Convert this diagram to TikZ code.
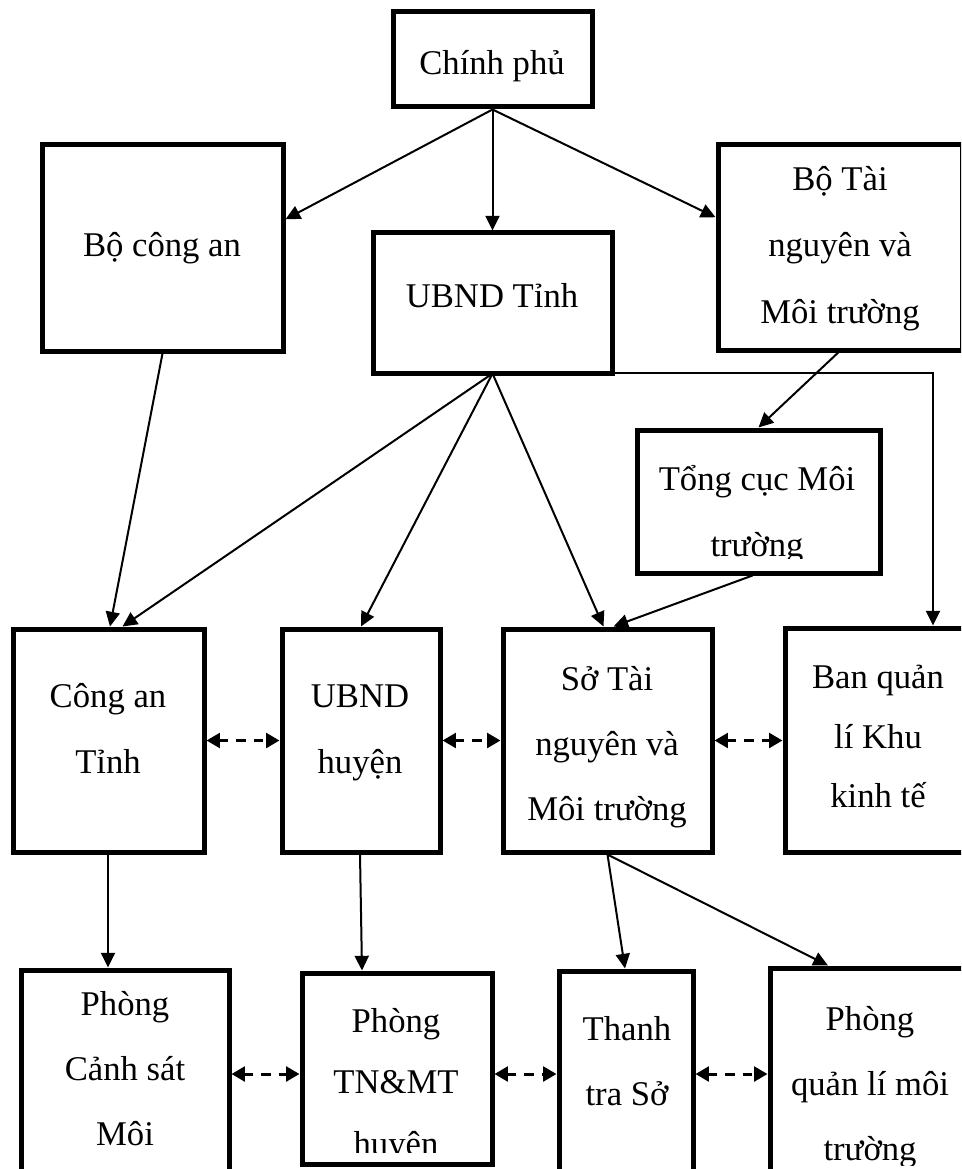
\documentclass[tikz,border=0pt]{standalone}
\usepackage{fontspec}
\setmainfont{Liberation Serif}
\usetikzlibrary{arrows.meta,calc,fit}
\tikzset{
  box/.style={draw, line width=3.75pt, inner sep=0pt, outer sep=1.875pt, rectangle},
  txt/.style={font=\fontsize{26}{30}\selectfont, inner sep=0pt, anchor=base},
  conn/.style={line width=1.5pt, -{Triangle[length=11pt,width=10.5pt]}},
  dconn/.style={line width=2.25pt, dash pattern=on 7pt off 6pt,
    {Triangle[length=10pt,width=11pt]}-{Triangle[length=10pt,width=11pt]}}
}
\begin{document}
\begin{tikzpicture}[x=0.75pt,y=-0.75pt]
\useasboundingbox (0,0) rectangle (961,1169);
\clip (0,0) rectangle (961,1169);
% boxes
\coordinate (cp1) at (393,12);   \coordinate (cp2) at (592,107);
\coordinate (bca1) at (42,145);  \coordinate (bca2) at (283,351);
\coordinate (ubt1) at (373,233); \coordinate (ubt2) at (612,373);
\coordinate (bta1) at (718,145); \coordinate (bta2) at (962.5,350);
\coordinate (tcm1) at (637,430); \coordinate (tcm2) at (880,573);
\coordinate (cat1) at (13,629);  \coordinate (cat2) at (204,852);
\coordinate (ubh1) at (282,629); \coordinate (ubh2) at (440,852);
\coordinate (stn1) at (503,629); \coordinate (stn2) at (712,852);
\coordinate (bql1) at (785,628); \coordinate (bql2) at (968,852);
\coordinate (pcs1) at (21,970);  \coordinate (pcs2) at (229,1178);
\coordinate (ptn1) at (302,973); \coordinate (ptn2) at (492,1164);
\coordinate (tts1) at (559,971); \coordinate (tts2) at (693,1178);
\coordinate (pql1) at (770,968); \coordinate (pql2) at (968,1178);
\foreach \n in {cp,bca,ubt,bta,tcm,cat,ubh,stn,bql,pcs,ptn,tts,pql}
  {\node[box, fit=(\n1)(\n2)] (\n) {};}
% texts
\node[txt] (tcp) at (492,75) {Chính phủ};
\node[txt] (tbca) at (162,257) {Bộ công an};
\node[txt] (tubt) at (492,307) {UBND Tỉnh};
\node[txt] (tbta1) at (840,191) {Bộ Tài};
\node[txt] (tbta2) at (840,257) {nguyên và};
\node[txt] (tbta3) at (840,323) {Môi trường};
\node[txt] (ttcm1) at (757,490) {Tổng cục Môi};
\begin{scope}
  \clip (637,430) rectangle (880,558);
  \node[txt] (ttcm2) at (757,556) {trường};
\end{scope}
\node[txt] (tcat1) at (108,707) {Công an};
\node[txt] (tcat2) at (108,773) {Tỉnh};
\node[txt] (tubh1) at (360,707) {UBND};
\node[txt] (tubh2) at (360,773) {huyện};
\node[txt] (tstn1) at (607,690) {Sở Tài};
\node[txt] (tstn2) at (607,755) {nguyên và};
\node[txt] (tstn3) at (607,820) {Môi trường};
\node[txt] (tbql1) at (878,688) {Ban quản};
\node[txt] (tbql2) at (878,748) {lí Khu};
\node[txt] (tbql3) at (878,807) {kinh tế};
\node[txt] (tpcs1) at (125,1015) {Phòng};
\node[txt] (tpcs2) at (125,1080) {Cảnh sát};
\node[txt] (tpcs3) at (125,1145) {Môi};
\node[txt] (tptn1) at (396,1032) {Phòng};
\node[txt] (tptn2) at (396,1093) {TN\&MT};
\begin{scope}
  \clip (302,973) rectangle (492,1152);
  \node[txt] (tptn3) at (396,1155) {huyện};
\end{scope}
\node[txt] (ttts1) at (627,1040) {Thanh};
\node[txt] (ttts2) at (627,1105) {tra Sở};
\node[txt] (tpql1) at (870,1030) {Phòng};
\node[txt] (tpql2) at (870,1095) {quản lí môi};
\begin{scope}
  \clip (770,968) rectangle (961,1165);
  \node[txt] (tpql3) at (870,1160) {trường};
\end{scope}
% solid connectors
\draw[conn] (cp.south) -- ($(bca.north east)!0.364!(bca.south east)$);
\draw[conn] (cp.south) -- (cp.south |- ubt.north);
\draw[conn] (cp.south) -- ($(bta.north west)!0.356!(bta.south west)$);
\draw[conn] (bca.south) -- ($(cat.north)+(1.5,0)$);
\coordinate (ubo) at ($(ubt.south)+(0,-2)$);
\draw[conn] (ubo) -- ($(cat.north)+(14,0)$);
\draw[conn] (ubo) -- (ubh.north);
\draw[conn] (ubo) -- ($(stn.north)+(-4,0)$);
\coordinate (ubr) at ($(ubt.south east)+(-2,-3)$);
\draw[conn] (ubr) -| ($(bql.north)+(56.5,0)$);
\draw[conn] ($(bta.south)+(-2,0)$) -- (tcm.north);
\draw[conn] ($(tcm.south)+(-6,0)$) -- ($(stn.north)+(6,0)$);
\draw[conn] ($(cat.south)+(-0.5,0)$) -- ($(pcs.north)+(-17,0)$);
\draw[conn] ($(ubh.south)+(-1,0)$) -- ($(ptn.north)+(-35,0)$);
\draw[conn] (stn.south) -- ($(tts.north)+(-1,0)$);
\draw[conn] (stn.south) -- ($(pql.north)+(-41,0)$);
% dashed connectors
\draw[dconn] (cat.east) -- (ubh.west);
\draw[dconn] (ubh.east) -- (stn.west);
\draw[dconn] (stn.east) -- (bql.west |- stn.east);
\coordinate (r4) at (0,1074);
\draw[dconn] (pcs.east |- r4) -- (ptn.west |- r4);
\draw[dconn] (ptn.east |- r4) -- (tts.west |- r4);
\draw[dconn] (tts.east |- r4) -- (pql.west |- r4);
\end{tikzpicture}
\end{document}
